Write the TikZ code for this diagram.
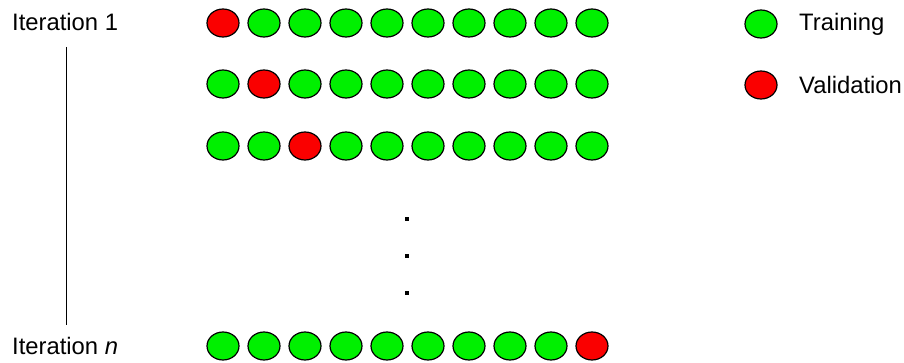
\documentclass[tikz,border=0pt]{standalone}
\usepackage{fontspec}
\setmainfont{Liberation Sans}
\usetikzlibrary{shapes.geometric}
\definecolor{tgreen}{RGB}{0,240,0}
\definecolor{vred}{RGB}{250,0,0}
\begin{document}
\begin{tikzpicture}[x=1pt,y=-1pt,
  fold/.style={ellipse,draw=black,line width=1.2pt,minimum width=32pt,minimum height=28pt,inner sep=0pt},
  trn/.style={fold,fill=tgreen},
  val/.style={fold,fill=vred},
  lbl/.style={font=\fontsize{23.8}{26}\selectfont,inner sep=0pt},
  dotm/.style={fill=black,minimum size=4pt,inner sep=0pt}]
\useasboundingbox (0,0) rectangle (904,363);
% labels
\node[lbl,anchor=west] (it1) at (12,22) {Iteration 1};
\node[lbl,anchor=west] (itn) at (12,346) {Iteration \textit{n}};
\coordinate (ltop) at (66,47);
\coordinate (lbot) at (66,325);
\draw[line width=1pt] (ltop) -- (lbot);
% rows
\foreach \r/\y/\v in {1/23/1,2/84/2,3/146/3,4/346/10}{
  \foreach \i in {1,...,10}{
    \pgfmathsetmacro{\xx}{223+41*(\i-1)}
    \ifnum\i=\v
      \node[val] (c\r-\i) at (\xx,\y) {};
    \else
      \node[trn] (c\r-\i) at (\xx,\y) {};
    \fi
  }
}
% dots
\node[dotm] (d1) at (407,219) {};
\node[dotm] (d2) at (407,256) {};
\node[dotm] (d3) at (407,293) {};
% legend
\node[trn] (lg) at (761,24) {};
\node[val] (lr) at (761,85) {};
\node[lbl,anchor=west] (lgt) at (799,24) {Training};
\node[lbl,anchor=west] (lrt) at (799,85) {Validation};
\end{tikzpicture}
\end{document}
